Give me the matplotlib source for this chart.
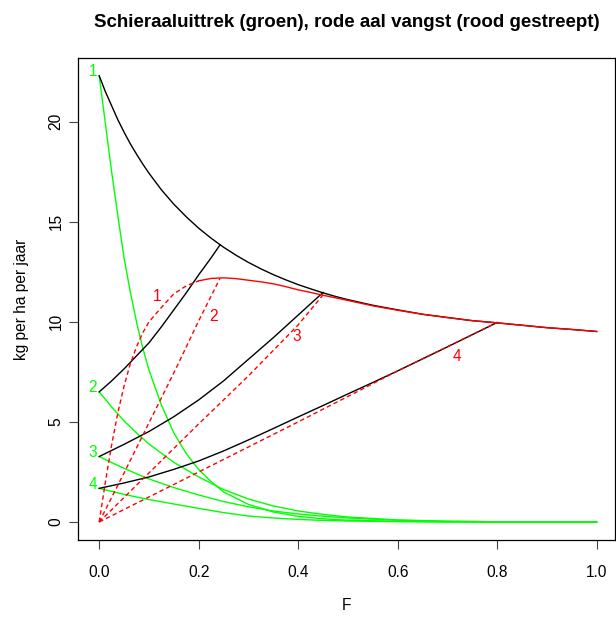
import matplotlib
matplotlib.use('Agg')
import matplotlib.pyplot as plt

plt.rcParams['font.family'] = ['Liberation Sans', 'DejaVu Sans']

# ============================================================
# Data
# ============================================================
# scenario 1: total (black, top) and catch (red)
F_tot  = [0, 0.0125, 0.025, 0.0375, 0.05, 0.0625, 0.075, 0.0875, 0.1, 0.125,
          0.15, 0.175, 0.2, 0.225, 0.25, 0.275, 0.3, 0.325, 0.35, 0.375, 0.4,
          0.425, 0.45, 0.475, 0.5, 0.55, 0.6, 0.65, 0.7, 0.75, 0.8, 0.85, 0.9,
          0.95, 1.0]
total1 = [22.3, 21.5, 20.8, 20.1, 19.48, 18.9, 18.38, 17.89, 17.43, 16.6,
          15.88, 15.25, 14.68, 14.18, 13.73, 13.33, 12.97, 12.65, 12.36, 12.1, 11.86,
          11.65, 11.45, 11.27, 11.11, 10.83, 10.6, 10.38, 10.22, 10.06, 9.95, 9.83, 9.71,
          9.62, 9.52]
catch1 = [0, 2.0, 3.85, 5.45, 6.8, 7.9, 8.75, 9.45, 10.0, 10.72,
          11.4, 11.8, 12.05, 12.17, 12.2, 12.16, 12.08, 12.0, 11.9, 11.76, 11.6,
          11.47, 11.33, 11.2, 11.07, 10.8, 10.58, 10.38, 10.21, 10.06, 9.95, 9.83, 9.71,
          9.62, 9.52]
n_dash1 = 13   # first points of catch1 drawn dashed (F <= 0.2)

# escapement (green)
F_g1   = [0, 0.0125, 0.025, 0.0375, 0.05, 0.0625, 0.075, 0.0875, 0.1, 0.125, 0.15,
          0.175, 0.2, 0.225, 0.25, 0.3, 0.35, 0.4, 0.45, 0.5, 0.6, 0.7, 0.8, 1.0]
green1 = [22.3, 19.9, 17.5, 15.3, 13.2, 11.5, 10.0, 8.7, 7.6, 5.85, 4.45,
          3.42, 2.62, 2.02, 1.5, 0.88, 0.5, 0.28, 0.16, 0.09, 0.03, 0.01, 0.0, 0.0]
F_g    = [0, 0.025, 0.05, 0.075, 0.1, 0.15, 0.2, 0.25, 0.3, 0.35, 0.4, 0.45, 0.5,
          0.6, 0.7, 0.8, 1.0]
green2 = [6.5, 5.75, 5.05, 4.45, 3.9, 2.98, 2.25, 1.62, 1.15, 0.8, 0.55, 0.38, 0.25,
          0.1, 0.04, 0.01, 0.0]
green3 = [3.27, 2.97, 2.68, 2.41, 2.15, 1.72, 1.35, 1.02, 0.76, 0.55, 0.4, 0.29, 0.2,
          0.09, 0.03, 0.01, 0.0]
green4 = [1.68, 1.53, 1.38, 1.25, 1.12, 0.9, 0.68, 0.47, 0.3, 0.2, 0.13, 0.08, 0.05,
          0.02, 0.0, 0.0, 0.0]

# totals of scenarios 2-4 (black, rising)
F_b2   = [0, 0.025, 0.05, 0.075, 0.1, 0.125, 0.15, 0.175, 0.2, 0.225, 0.243]
black2 = [6.5, 7.05, 7.65, 8.3, 8.95, 9.75, 10.6, 11.45, 12.35, 13.2, 13.85]
F_b3   = [0, 0.05, 0.1, 0.15, 0.2, 0.25, 0.3, 0.35, 0.4, 0.45]
black3 = [3.27, 3.88, 4.52, 5.26, 6.1, 7.05, 8.13, 9.21, 10.34, 11.47]
F_b4   = [0, 0.05, 0.1, 0.15, 0.2, 0.25, 0.3, 0.35, 0.4, 0.45, 0.5, 0.55, 0.6,
          0.65, 0.7, 0.75, 0.8]
black4 = [1.68, 1.95, 2.25, 2.63, 3.05, 3.55, 4.1, 4.67, 5.25, 5.82, 6.4, 6.97, 7.55,
          8.15, 8.75, 9.36, 9.97]

# catches of scenarios 2-4 (red dashed)
F_c2   = [0, 0.05, 0.1, 0.153, 0.2, 0.243]
catch2 = [0, 2.45, 4.95, 7.6, 10.05, 12.18]
F_c3   = [0, 0.1, 0.2, 0.3, 0.4, 0.45]
catch3 = [0, 2.45, 4.9, 7.3, 9.85, 11.35]
F_c4   = [0, 0.2, 0.4, 0.6, 0.8]
catch4 = [0, 2.5, 5.0, 7.55, 9.97]

scen_labels = ['1', '2', '3', '4']
green_start = [22.3, 6.5, 3.27, 1.68]
red_lab_F   = [0.116, 0.229, 0.397, 0.719]
red_lab_y   = [11.25, 10.25, 9.25, 8.25]

# ============================================================
# Plot
# ============================================================
GREEN = '#00FF00'
RED   = '#FF0000'
LW    = 1.0
DASH  = (0, (3.2, 2.2))
FS    = 11.2

fig = plt.figure(figsize=(6.16, 6.17), dpi=100)
ax = fig.add_axes([0.1271, 0.1243, 0.8718, 0.7822])

ax.plot(F_g1, green1, color=GREEN, lw=LW)
ax.plot(F_g, green2, color=GREEN, lw=LW)
ax.plot(F_g, green3, color=GREEN, lw=LW)
ax.plot(F_g, green4, color=GREEN, lw=LW)

ax.plot(F_tot, total1, color='black', lw=LW)
ax.plot(F_b2, black2, color='black', lw=LW)
ax.plot(F_b3, black3, color='black', lw=LW)
ax.plot(F_b4, black4, color='black', lw=LW)

ax.plot(F_tot[:n_dash1], catch1[:n_dash1], color=RED, lw=LW, linestyle=DASH)
ax.plot(F_tot[n_dash1 - 1:], catch1[n_dash1 - 1:], color=RED, lw=LW)
ax.plot(F_c2, catch2, color=RED, lw=LW, linestyle=DASH)
ax.plot(F_c3, catch3, color=RED, lw=LW, linestyle=DASH)
ax.plot(F_c4, catch4, color=RED, lw=LW, linestyle=DASH)

for lab, y0 in zip(scen_labels, green_start):
    ax.annotate(lab, (0, y0), xytext=(-1.5, 3), textcoords='offset points',
                ha='right', va='center', color=GREEN, fontsize=FS)
for lab, fx, fy in zip(scen_labels, red_lab_F, red_lab_y):
    ax.text(fx, fy, lab, ha='center', va='center', color=RED, fontsize=FS)

ax.set_xlim(-0.042, 1.0375)
ax.set_ylim(-0.915, 23.2)
ax.set_xticks([0, 0.2, 0.4, 0.6, 0.8, 1.0])
ax.set_xticklabels(['0.0', '0.2', '0.4', '0.6', '0.8', '1.0'])
ax.set_yticks([0, 5, 10, 15, 20])
ax.set_yticklabels(['0', '5', '10', '15', '20'], rotation=90, va='center')
ax.tick_params(axis='both', length=6.5, width=0.8, labelsize=FS, color='#444444')
ax.tick_params(axis='x', pad=11.5)
ax.tick_params(axis='y', pad=4)
for s in ax.spines.values():
    s.set_linewidth(0.9)

ax.set_xlabel('F', fontsize=FS, labelpad=13)
ax.set_ylabel('kg per ha per jaar', fontsize=FS, labelpad=14)
ax.set_title('Schieraaluittrek (groen), rode aal vangst (rood gestreept)',
             fontsize=13.5, fontweight='bold', pad=22)

plt.savefig('out.png', dpi=100)
plt.close()
